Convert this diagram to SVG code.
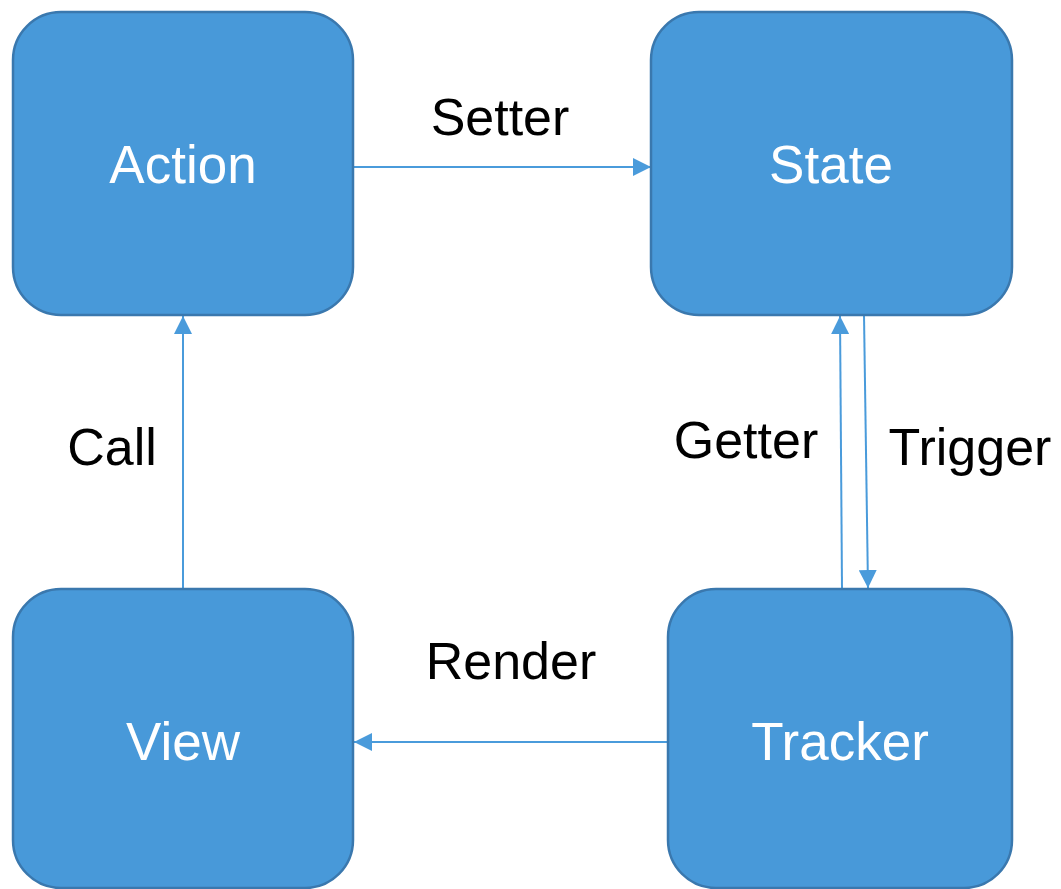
<svg xmlns="http://www.w3.org/2000/svg" width="1061" height="889" viewBox="0 0 1061 889">
<style>
.box{fill:#4899D9;stroke:#3A78AE;stroke-width:2.5}
.nt{font-family:"Liberation Sans",Arial,sans-serif;font-size:53px;fill:#FFFFFF;text-anchor:middle}
.lt{font-family:"Liberation Sans",Arial,sans-serif;font-size:52px;fill:#000000;text-anchor:middle}
.ln{fill:none;stroke:#4A9BDB;stroke-width:2;marker-end:url(#ah)}
</style>
<defs>
<marker id="ah" markerWidth="18" markerHeight="18" refX="18" refY="9" orient="auto" markerUnits="userSpaceOnUse">
<path d="M0,0 L18,9 L0,18 Z" fill="#4A9BDB"/>
</marker>
</defs>
<rect width="1061" height="889" fill="#FFFFFF"/>
<g id="connectors">
<line class="ln" x1="353" y1="167" x2="651" y2="167"/>
<line class="ln" x1="183" y1="589" x2="183" y2="316"/>
<line class="ln" x1="842" y1="588" x2="840" y2="316"/>
<line class="ln" x1="864" y1="315" x2="868" y2="588"/>
<line class="ln" x1="668" y1="742" x2="354" y2="742"/>
<text class="lt" x="500" y="135">Setter</text>
<text class="lt" x="112" y="465">Call</text>
<text class="lt" x="746" y="458">Getter</text>
<text class="lt" x="970" y="465">Trigger</text>
<text class="lt" x="511" y="679">Render</text>
</g>
<g id="action">
<rect class="box" x="13" y="12" width="340" height="303" rx="48" ry="48"/>
<text class="nt" x="183" y="183">Action</text>
</g>
<g id="state">
<rect class="box" x="651" y="12" width="361" height="303" rx="48" ry="48"/>
<text class="nt" x="831" y="183">State</text>
</g>
<g id="view">
<rect class="box" x="13" y="589" width="340" height="299" rx="48" ry="48"/>
<text class="nt" x="183" y="760">View</text>
</g>
<g id="tracker">
<rect class="box" x="668" y="589" width="344" height="299" rx="48" ry="48"/>
<text class="nt" x="840" y="760">Tracker</text>
</g>
</svg>
